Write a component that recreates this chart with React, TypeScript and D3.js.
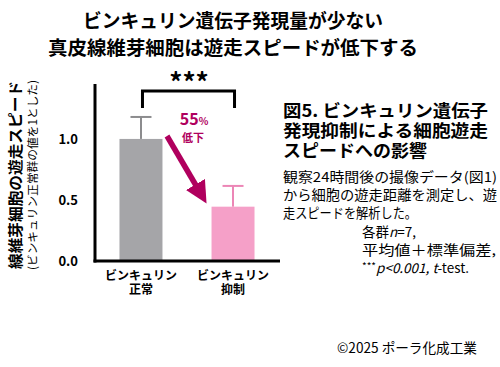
import React, { useEffect, useRef } from 'react';
import * as d3 from 'd3';

const categories = ['ビンキュリン\n正常', 'ビンキュリン\n抑制'];
const means = [1.0, 0.445];
const sds = [0.18, 0.17];
const yTicks = [0.0, 0.5, 1.0];
const titleLines = ['ビンキュリン遺伝子発現量が少ない', '真皮線維芽細胞は遊走スピードが低下する'];
const figTitle = ['図5. ビンキュリン遺伝子', '発現抑制による細胞遊走', 'スピードへの影響'];
const bodyLines = ['観察24時間後の撮像データ(図1)', 'から細胞の遊走距離を測定し、遊', '走スピードを解析した。'];

const barColors = ['#a5a5a8', '#f5a0c8'];
const errColors = ['#8c8c8e', '#ec86b6'];
const accent = '#b0005e';
const FONT = "'Noto Sans CJK JP', 'Noto Sans', sans-serif";

const App: React.FC = () => {
  const svgRef = useRef<SVGSVGElement>(null);

  useEffect(() => {
    if (!svgRef.current) return;
    const svg = d3.select(svgRef.current);
    svg.selectAll('*').remove();

    const x = d3.scaleBand<string>().domain(categories).range([95, 279]).paddingInner(0.533).paddingOuter(0.266);
    const y = d3.scaleLinear().domain([0, 1.45]).range([261, 84]);

    // Title
    const tw = [300, 370];
    titleLines.forEach((t, i) => {
      svg.append('text')
        .attr('x', 233).attr('y', 28 + i * 27)
        .attr('text-anchor', 'middle')
        .attr('font-size', 19).attr('font-weight', 'bold')
        .attr('textLength', tw[i]).attr('lengthAdjust', 'spacingAndGlyphs')
        .text(t);
    });

    // Bars
    const g = svg.append('g');
    g.selectAll('rect.bar')
      .data(categories)
      .enter().append('rect')
      .attr('x', d => x(d)!)
      .attr('y', (d, i) => y(means[i]))
      .attr('width', x.bandwidth())
      .attr('height', (d, i) => y(0) - y(means[i]))
      .attr('fill', (d, i) => barColors[i]);

    // Error bars
    categories.forEach((c, i) => {
      const cx = x(c)! + x.bandwidth() / 2;
      g.append('line')
        .attr('x1', cx).attr('x2', cx)
        .attr('y1', y(means[i])).attr('y2', y(means[i] + sds[i]))
        .attr('stroke', errColors[i]).attr('stroke-width', 2);
      g.append('line')
        .attr('x1', cx - 10.5).attr('x2', cx + 10.5)
        .attr('y1', y(means[i] + sds[i])).attr('y2', y(means[i] + sds[i]))
        .attr('stroke', errColors[i]).attr('stroke-width', 2);
    });

    // Axes
    svg.append('line').attr('x1', 95).attr('x2', 95).attr('y1', y(1.45)).attr('y2', y(0) + 1.5)
      .attr('stroke', '#000').attr('stroke-width', 3);
    svg.append('line').attr('x1', 93.5).attr('x2', 280).attr('y1', y(0)).attr('y2', y(0))
      .attr('stroke', '#000').attr('stroke-width', 3);

    yTicks.forEach(t => {
      svg.append('text')
        .attr('x', 78).attr('y', y(t) + 5)
        .attr('text-anchor', 'end')
        .attr('font-size', 13).attr('font-weight', 'bold')
        .text(t.toFixed(1));
    });

    categories.forEach(c => {
      const cx = x(c)! + x.bandwidth() / 2;
      c.split('\n').forEach((s, j) => {
        svg.append('text')
          .attr('x', cx).attr('y', 280 + j * 14)
          .attr('text-anchor', 'middle')
          .attr('font-size', 12).attr('font-weight', 'bold')
          .text(s);
      });
    });

    // Y label
    const yl = svg.append('g').attr('transform', 'translate(0,175) rotate(-90)');
    yl.append('text').attr('x', 0).attr('y', 21)
      .attr('text-anchor', 'middle').attr('font-size', 15).attr('font-weight', 'bold')
      .attr('textLength', 188).attr('lengthAdjust', 'spacingAndGlyphs')
      .text('線維芽細胞の遊走スピード');
    yl.append('text').attr('x', 0).attr('y', 37)
      .attr('text-anchor', 'middle').attr('font-size', 11.5)
      .attr('textLength', 190).attr('lengthAdjust', 'spacingAndGlyphs')
      .text('(ビンキュリン正常群の値を1とした)');

    // Significance bracket
    const c0 = x(categories[0])! + x.bandwidth() / 2;
    const c1 = x(categories[1])! + x.bandwidth() / 2;
    svg.append('path')
      .attr('d', `M${c0 + 1.5},108 V91 H${c1 + 1.5} V108`)
      .attr('fill', 'none').attr('stroke', '#000').attr('stroke-width', 3);
    svg.append('text').attr('x', (c0 + c1) / 2 + 2).attr('y', 92)
      .attr('text-anchor', 'middle').attr('font-size', 26).attr('font-weight', 'bold')
      .text('***');

    // Arrow
    const defs = svg.append('defs');
    defs.append('marker').attr('id', 'ah')
      .attr('viewBox', '0 0 10 10').attr('refX', 5).attr('refY', 5)
      .attr('markerWidth', 4).attr('markerHeight', 4)
      .attr('orient', 'auto')
      .append('path').attr('d', 'M0,0 L10,5 L0,10 z').attr('fill', accent);
    svg.append('line')
      .attr('x1', 167).attr('y1', 136).attr('x2', 201).attr('y2', 194)
      .attr('stroke', accent).attr('stroke-width', 5.5)
      .attr('marker-end', 'url(#ah)');

    const pct = svg.append('text').attr('x', 194).attr('y', 125)
      .attr('text-anchor', 'middle').attr('fill', accent).attr('font-weight', 'bold');
    pct.append('tspan').attr('font-size', 16).text('55');
    pct.append('tspan').attr('font-size', 10).text('%');
    svg.append('text').attr('x', 193).attr('y', 142)
      .attr('text-anchor', 'middle').attr('fill', accent).attr('font-size', 11).attr('font-weight', 'bold')
      .text('低下');

    // Figure caption
    const fw = [205, 205, 144];
    figTitle.forEach((t, i) => {
      svg.append('text').attr('x', 283).attr('y', 117 + i * 20)
        .attr('font-size', 17).attr('font-weight', 'bold')
        .attr('textLength', fw[i]).attr('lengthAdjust', 'spacingAndGlyphs')
        .text(t);
    });
    const bw = [214, 214, 134];
    bodyLines.forEach((t, i) => {
      svg.append('text').attr('x', 283).attr('y', 182 + i * 18)
        .attr('font-size', 13.5)
        .attr('textLength', bw[i]).attr('lengthAdjust', 'spacingAndGlyphs')
        .text(t);
    });
    const n1 = svg.append('text').attr('x', 362).attr('y', 237).attr('font-size', 13.5);
    n1.append('tspan').text('各群');
    n1.append('tspan').attr('font-style', 'italic').text('n');
    n1.append('tspan').text('=7,');
    svg.append('text').attr('x', 362).attr('y', 255).attr('font-size', 13.5)
      .attr('textLength', 134).attr('lengthAdjust', 'spacingAndGlyphs')
      .text('平均値＋標準偏差,');
    const n3 = svg.append('text').attr('x', 362).attr('y', 273).attr('font-size', 13.5);
    n3.append('tspan').attr('font-size', 10).attr('dy', -3).text('***');
    n3.append('tspan').attr('font-style', 'italic').attr('dy', 3).text('p<0.001, t');
    n3.append('tspan').text('-test.');

    svg.append('text').attr('x', 337).attr('y', 353).attr('font-size', 14)
      .attr('textLength', 140).attr('lengthAdjust', 'spacingAndGlyphs')
      .text('©2025 ポーラ化成工業');
  }, []);

  return (
    <svg
      ref={svgRef}
      width={500}
      height={367}
      style={{ position: 'absolute', left: 0, top: 0, background: '#fff', fontFamily: FONT }}
    />
  );
};

export default App;
